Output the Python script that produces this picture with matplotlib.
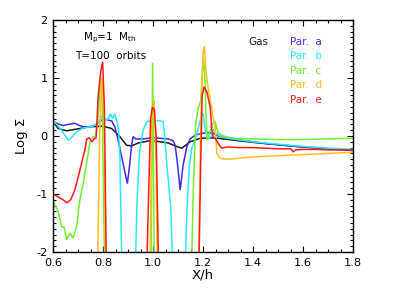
import matplotlib
matplotlib.use("Agg")
import matplotlib.pyplot as plt
from matplotlib.ticker import MultipleLocator

# ---- data ----
gas_x = [0.6, 0.62, 0.654, 0.694, 0.747, 0.8, 0.834, 0.867, 0.894, 0.914, 0.94, 0.987, 1.014,
         1.06, 1.094, 1.115, 1.148, 1.188, 1.228, 1.26, 1.3, 1.4, 1.5, 1.6, 1.7, 1.8]
gas_y = [0.25, 0.13, 0.09, 0.12, 0.16, 0.17, 0.13, -0.01, -0.16, -0.17, -0.12, -0.08, -0.09,
         -0.12, -0.18, -0.21, -0.1, -0.04, -0.03, -0.04, -0.06, -0.11, -0.15, -0.19, -0.22, -0.25]

a_x = [0.6, 0.62, 0.64, 0.66, 0.687, 0.70, 0.72, 0.747, 0.77, 0.787, 0.8, 0.817, 0.834, 0.847,
       0.86, 0.874, 0.886, 0.897, 0.906, 0.914, 0.92, 0.93, 0.96, 1.0, 1.03, 1.06, 1.08, 1.088,
       1.098, 1.108, 1.12, 1.135, 1.148, 1.17, 1.2, 1.22, 1.24, 1.26, 1.3, 1.35, 1.4, 1.45,
       1.5, 1.55, 1.6, 1.65, 1.7, 1.75, 1.8]
a_y = [0.25, 0.21, 0.18, 0.2, 0.22, 0.19, 0.16, 0.16, 0.19, 0.25, 0.29, 0.28, 0.26, 0.16,
       -0.07, -0.36, -0.6, -0.82, -0.5, -0.15, -0.01, -0.05, -0.05, -0.03, -0.04, -0.05, -0.08, -0.16,
       -0.5, -0.93, -0.5, -0.18, -0.05, 0.02, 0.05, 0.06, 0.05, 0.0, -0.04, -0.07, -0.1, -0.13,
       -0.15, -0.17, -0.19, -0.2, -0.22, -0.23, -0.25]

b_x = [0.6, 0.615, 0.634, 0.66, 0.67, 0.694, 0.72, 0.75, 0.775, 0.787, 0.794, 0.805, 0.815,
       0.83, 0.838, 0.847, 0.855, 0.862, 0.867, 0.878, 0.925, 0.935, 0.945, 0.96, 0.975, 1.0,
       1.03, 1.04, 1.045, 1.055, 1.07, 1.085, 1.122, 1.135, 1.145, 1.155, 1.168, 1.182, 1.195,
       1.2, 1.208, 1.22, 1.232, 1.24, 1.25, 1.27, 1.3, 1.4, 1.5, 1.6, 1.7, 1.8]
b_y = [0.25, 0.2, 0.1, -0.07, -0.04, 0.07, 0.14, 0.16, 0.2, 0.28, 0.34, 0.3, 0.27,
       0.38, 0.3, 0.38, 0.25, 0.1, -0.36, -3, -3, -1.2, -0.3, 0.1, 0.25, 0.27,
       0.26, 0.25, 0.05, -0.5, -1.2, -3, -3, -1.3, -0.5, -0.2, -0.07, 0.16, 0.39,
       0.37, 0.1, -0.05, 0.0, 0.12, 0.05, -0.01, -0.04, -0.1, -0.14, -0.18, -0.21, -0.23]

c_x = [0.6, 0.62, 0.634, 0.645, 0.654, 0.667, 0.68, 0.694, 0.707, 0.72, 0.734, 0.74, 0.747,
       0.76, 0.77, 0.78, 0.79, 0.797, 0.803, 0.81, 0.99, 0.998, 1.006, 1.15, 1.16, 1.17, 1.18,
       1.19, 1.196, 1.201, 1.206, 1.211, 1.216, 1.225, 1.235, 1.248, 1.26, 1.288, 1.328, 1.4,
       1.5, 1.6, 1.7, 1.8]
c_y = [-1.13, -1.3, -1.56, -1.58, -1.79, -1.67, -1.76, -1.56, -1.1, -0.82, -0.47, -0.3, -0.12,
       -0.01, -0.01, 0.33, 1.05, 0.4, -1.5, -3, -3, 1.26, -3, -3, -1.0, 0.2, 0.48,
       0.6, 1.0, 1.34, 1.1, 0.4, -0.07, 0.05, 0.2, 0.25, 0.05, -0.01, -0.04, -0.05,
       -0.06, -0.06, -0.05, -0.04]

d_x = [0.6, 0.775, 0.787, 0.795, 0.802, 0.812, 0.985, 0.995, 1.004, 1.012, 1.018, 1.18, 1.19,
       1.195, 1.2, 1.205, 1.21, 1.215, 1.228, 1.24, 1.248, 1.255, 1.265, 1.275, 1.3, 1.35,
       1.4, 1.5, 1.6, 1.7, 1.8]
d_y = [-3, -3, 0.2, 1.0, 0.5, -3, -3, 0.3, 0.62, -0.5, -3, -3, 0.2,
       0.9, 1.45, 1.55, 1.2, 0.97, 0.62, 0.33, 0.15, -0.3, -0.37, -0.39, -0.4, -0.38,
       -0.36, -0.34, -0.32, -0.3, -0.28]

e_x = [0.6, 0.62, 0.64, 0.654, 0.67, 0.687, 0.707, 0.72, 0.727, 0.735, 0.745, 0.755, 0.765,
       0.772, 0.78, 0.79, 0.798, 0.805, 0.815, 0.97, 0.982, 0.99, 0.997, 1.005, 1.012, 1.025,
       1.18, 1.19, 1.196, 1.204, 1.215, 1.228, 1.235, 1.24, 1.25, 1.265, 1.275, 1.28, 1.3,
       1.35, 1.4, 1.45, 1.5, 1.55, 1.56, 1.57, 1.6, 1.65, 1.7, 1.75, 1.8]
e_y = [-1.0, -1.05, -1.1, -1.15, -1.1, -0.93, -0.59, -0.36, -0.24, -0.05, -0.03, -0.1, -0.05,
       -0.03, 0.68, 1.1, 1.28, 0.5, -3, -3, -1.0, 0.3, 0.5, 0.45, 0.0, -3,
       -3, -0.5, 0.7, 0.85, 0.76, 0.5, 0.1, -0.01, -0.05, -0.16, -0.21, -0.2, -0.19,
       -0.2, -0.2, -0.21, -0.22, -0.22, -0.27, -0.24, -0.23, -0.23, -0.24, -0.24, -0.24]

series = [
    ("Gas", gas_x, gas_y, "#1a1a1a"),
    ("Par.  a", a_x, a_y, "#4028ee"),
    ("Par.  b", b_x, b_y, "#28eaff"),
    ("Par.  c", c_x, c_y, "#70f030"),
    ("Par.  d", d_x, d_y, "#ffc01a"),
    ("Par.  e", e_x, e_y, "#ff1a1a"),
]

xticks = [0.6, 0.8, 1.0, 1.2, 1.4, 1.6, 1.8]
xticklabels = ["0.6", "0.8", "1.0", "1.2", "1.4", "1.6", "1.8"]
yticks = [-2, -1, 0, 1, 2]
yticklabels = ["-2", "-1", "0", "1", "2"]

# ---- figure ----
plt.rcParams['font.family'] = ['DejaVu Sans']
fig = plt.figure(figsize=(4.15, 2.97), dpi=100)
ax = fig.add_axes([0.128, 0.1515, 0.723, 0.781])

for name, xs, ys, col in series:
    ax.plot(xs, ys, color=col, lw=1.1, solid_joinstyle='miter')

ax.set_xlim(0.6, 1.8)
ax.set_ylim(-2, 2)
ax.set_xticks(xticks)
ax.set_xticklabels(xticklabels)
ax.set_yticks(yticks)
ax.set_yticklabels(yticklabels)
ax.xaxis.set_minor_locator(MultipleLocator(0.05))
ax.yaxis.set_minor_locator(MultipleLocator(0.1))
ax.tick_params(which='both', direction='in', top=True, right=True, width=0.8, labelsize=8.2, pad=4)
ax.tick_params(which='major', length=4)
ax.tick_params(which='minor', length=2)
for sp in ax.spines.values():
    sp.set_linewidth(1.0)

ax.set_xlabel("X/h", fontsize=9.5, labelpad=1)
ax.set_ylabel("Log \u03a3", fontsize=9.5, labelpad=6)

# annotations
ax.text(0.1, 0.922, "M$_\\mathregular{p}$=1  M$_\\mathregular{th}$", transform=ax.transAxes,
        fontsize=7.5, ha='left', va='center')
ax.text(0.073, 0.845, "T=100  orbits", transform=ax.transAxes, fontsize=7.5, ha='left', va='center')

# legend as text
leg_y = [0.905, 0.845, 0.782, 0.72, 0.657]
ax.text(0.65, leg_y[0], "Gas", transform=ax.transAxes, fontsize=7.5, color=series[0][3],
        ha='left', va='center')
for i, (name, xs, ys, col) in enumerate(series[1:]):
    ax.text(0.79, leg_y[i], name, transform=ax.transAxes, fontsize=7.5, color=col,
            ha='left', va='center')

fig.savefig("out.png", dpi=100)
